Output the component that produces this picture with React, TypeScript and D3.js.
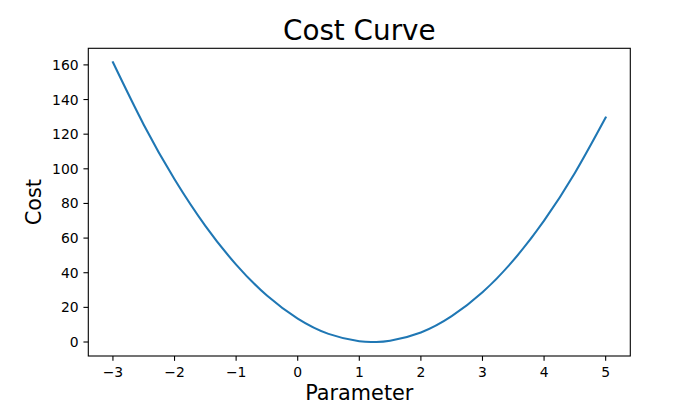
import React from "react";
import * as d3 from "d3";

const paramValues = [-3, -2.5, -2, -1.5, -1, -0.5, 0, 0.5, 1, 1.25, 1.5, 2, 2.5, 3, 3.5, 4, 4.5, 5];
const costValues = [161.5, 125.5, 94.0, 67.1, 44.7, 26.8, 13.5, 4.7, 0.44, 0.0, 0.71, 5.5, 14.9, 28.7, 47.1, 70.1, 97.6, 129.6];
const xTicks = [-3, -2, -1, 0, 1, 2, 3, 4, 5];
const yTicks = [0, 20, 40, 60, 80, 100, 120, 140, 160];

const W = 700;
const H = 400;
const left = 88.3;
const right = 630.3;
const top = 48.3;
const bottom = 356;
const font = "DejaVu Sans, sans-serif";

export default function App() {
  const x = d3.scaleLinear().domain([-3.4, 5.4]).range([left, right]);
  const y = d3.scaleLinear().domain([-8.08, 169.58]).range([bottom, top]);
  const pts = paramValues.map((p, i) => [p, costValues[i]] as [number, number]);
  const line = d3
    .line<[number, number]>()
    .x((d) => x(d[0]))
    .y((d) => y(d[1]))
    .curve(d3.curveNatural);
  const fmt = (v: number) => (v < 0 ? "\u2212" + Math.abs(v) : String(v));
  return (
    <svg
      width={W}
      height={H}
      style={{ position: "fixed", left: 0, top: 0, background: "#fff" }}
      fontFamily={font}
    >
      <rect x={0} y={0} width={W} height={H} fill="#fff" />
      <path d={line(pts) || ""} fill="none" stroke="#1f77b4" strokeWidth={2.08} strokeLinecap="square" />
      <rect x={left} y={top} width={right - left} height={bottom - top} fill="none" stroke="#000" strokeWidth={1.1} />
      {xTicks.map((t) => (
        <g key={"x" + t}>
          <line x1={x(t)} x2={x(t)} y1={bottom} y2={bottom + 4.86} stroke="#000" strokeWidth={1.1} />
          <text x={x(t)} y={376.7} fontSize={13.9} textAnchor="middle" fill="#000">
            {fmt(t)}
          </text>
        </g>
      ))}
      {yTicks.map((t) => (
        <g key={"y" + t}>
          <line x1={left - 4.86} x2={left} y1={y(t)} y2={y(t)} stroke="#000" strokeWidth={1.1} />
          <text x={78.6} y={y(t) + 5.05} fontSize={13.9} textAnchor="end" fill="#000">
            {t}
          </text>
        </g>
      ))}
      <text x={(left + right) / 2} y={40} fontSize={27.8} textAnchor="middle" fill="#000">
        Cost Curve
      </text>
      <text x={(left + right) / 2} y={399.5} fontSize={20.8} textAnchor="middle" fill="#000">
        Parameter
      </text>
      <text
        transform={`translate(41,${(top + bottom) / 2}) rotate(-90)`}
        fontSize={20.8}
        textAnchor="middle"
        fill="#000"
      >
        Cost
      </text>
    </svg>
  );
}
